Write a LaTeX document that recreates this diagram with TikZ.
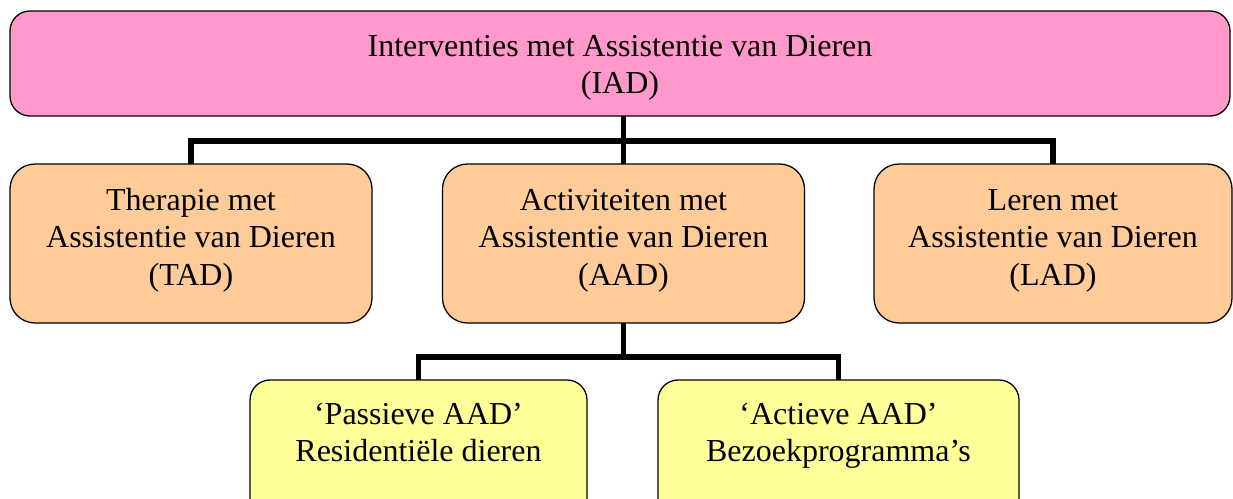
\documentclass[tikz,border=0pt]{standalone}
\usepackage{fontspec}
\setmainfont{Liberation Serif}
\definecolor{iadpink}{RGB}{255,153,204}
\definecolor{tadorange}{RGB}{255,204,153}
\definecolor{aadyellow}{RGB}{255,255,153}
\newcommand{\bxtext}[4]{\parbox[c][#1pt][t]{#2pt}{\centering\rule{0pt}{#3pt}#4}}
\tikzset{
  boxbase/.style={draw=black, line width=1.3pt, inner sep=0pt, outer sep=0pt,
    font=\fontsize{32}{37.5}\selectfont},
  topbox/.style={boxbase, fill=iadpink, rounded corners=20pt},
  midbox/.style={boxbase, fill=tadorange, rounded corners=25pt},
  lowbox/.style={boxbase, fill=aadyellow, rounded corners=20pt},
  conn/.style={line width=5.5pt, line join=miter, draw=black}
}
\begin{document}
\begin{tikzpicture}[x=1pt, y=-1pt]
\useasboundingbox (0,0) rectangle (1233,498);
\clip (0,0) rectangle (1233,498);
\fill[white] (0,0) rectangle (1233,498);
\node[topbox] (iad) at (620,63.5) {\bxtext{105}{1220}{45}{Interventies met Assistentie van Dieren\\(IAD)}};
\node[midbox] (tad) at (191,243.5) {\bxtext{159}{362}{46}{Therapie met\\Assistentie van Dieren\\(TAD)}};
\node[midbox] (aad) at (623.5,243.5) {\bxtext{159}{362}{46}{Activiteiten met\\Assistentie van Dieren\\(AAD)}};
\node[midbox] (lad) at (1053,243.5) {\bxtext{159}{358}{46}{Leren met\\Assistentie van Dieren\\(LAD)}};
\node[lowbox] (pas) at (418.5,450) {\bxtext{140}{337}{44}{‘Passieve AAD’\\Residentiële dieren}};
\node[lowbox] (act) at (838.5,450) {\bxtext{140}{361}{44}{‘Actieve AAD’\\Bezoekprogramma’s}};
\coordinate (j1) at (623.5,141);
\coordinate (j2) at (623.5,357);
\draw[conn] (iad.south -| j1) -- (j1) -- (aad.north);
\draw[conn] (tad.north) |- (j1) -| (lad.north);
\draw[conn] (aad.south) -- (j2);
\draw[conn] (pas.north) |- (j2) -| (act.north);
\end{tikzpicture}
\end{document}
